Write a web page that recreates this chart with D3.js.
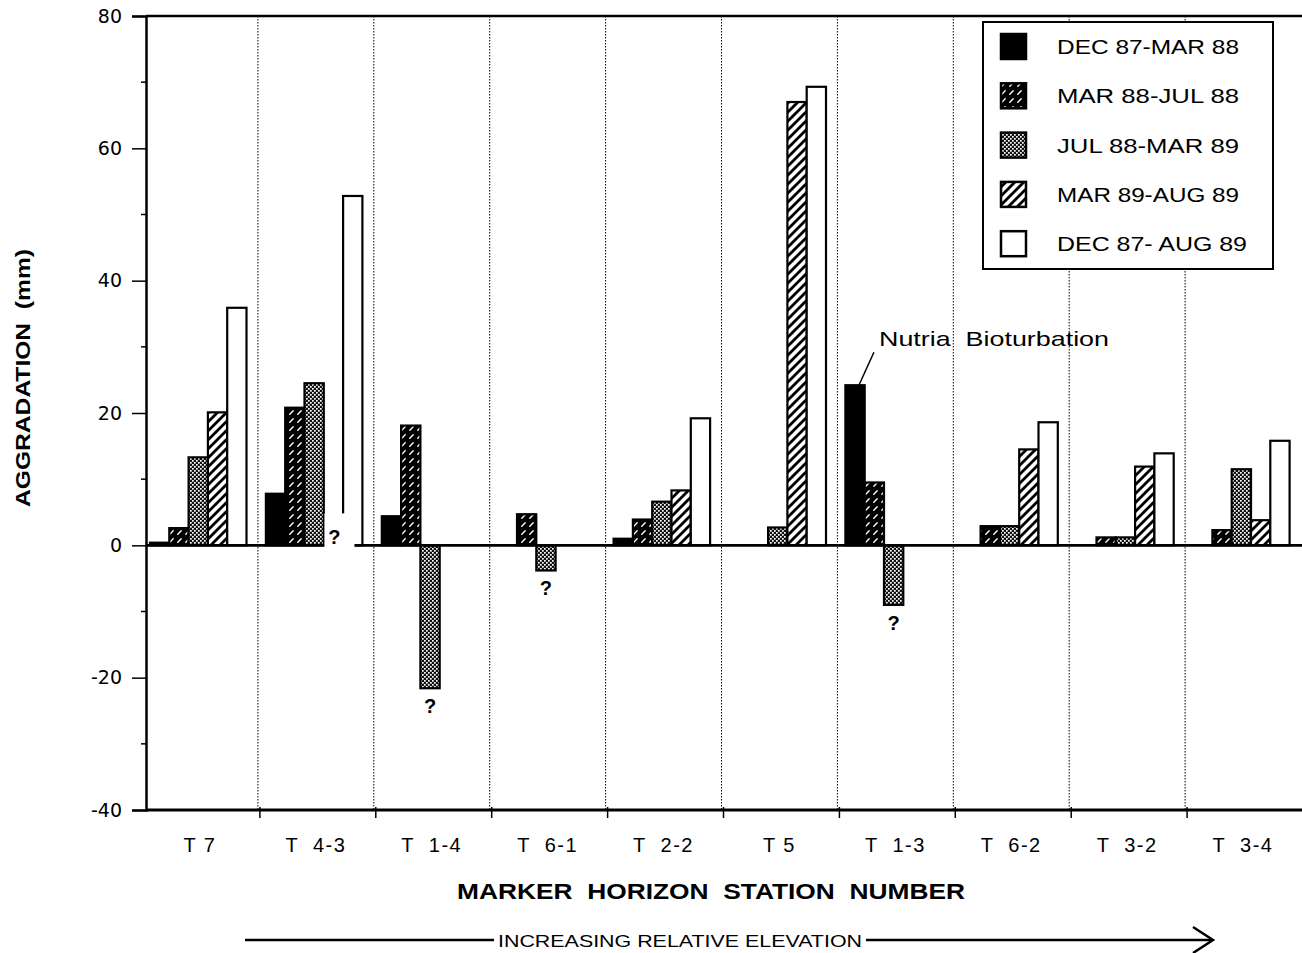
<!DOCTYPE html>
<html>
<head>
<meta charset="utf-8">
<script src="https://cdn.jsdelivr.net/npm/d3@7"></script>
<style>
  html, body { margin: 0; padding: 0; background: #fff; }
  svg { display: block; font-family: "Liberation Sans", Arial, Helvetica, sans-serif; }
</style>
</head>
<body>
<svg id="chart" width="1302" height="953"></svg>
<script>
// ---------------- DATA ----------------
const stations = ["T 7", "T  4-3", "T  1-4", "T  6-1", "T  2-2", "T 5", "T  1-3", "T  6-2", "T  3-2", "T  3-4"];
const seriesNames = ["DEC 87-MAR 88", "MAR 88-JUL 88", "JUL 88-MAR 89", "MAR 89-AUG 89", "DEC 87- AUG 89"];
const dec87Mar88 = [0.4, 7.8, 4.4, null, 1.0, null, 24.2, null, null, null];
const mar88Jul88 = [2.6, 20.8, 18.1, 4.7, 3.9, null, 9.5, 2.9, 1.2, 2.3];
const jul88Mar89 = [13.3, 24.5, -21.6, -3.8, 6.6, 2.7, -9.0, 2.9, 1.2, 11.5];
const mar89Aug89 = [20.1, null, null, null, 8.3, 67.0, null, 14.5, 11.9, 3.8];
const dec87Aug89 = [35.9, 52.8, null, null, 19.2, 69.3, null, 18.6, 13.9, 15.8];
const yTicks = [-40, -20, 0, 20, 40, 60, 80];
const yMinorTicks = [-30, -10, 10, 30, 50, 70];
// uncertain values marked with "?" : [station, series]
const questionMarks = [["T  4-3", "MAR 89-AUG 89"], ["T  1-4", "JUL 88-MAR 89"], ["T  6-1", "JUL 88-MAR 89"], ["T  1-3", "JUL 88-MAR 89"]];
const annotation = { station: "T  1-3", series: "DEC 87-MAR 88", text: "Nutria  Bioturbation" };
const xTitle = "MARKER  HORIZON  STATION  NUMBER";
const yTitle = "AGGRADATION  (mm)";
const arrowText = "INCREASING RELATIVE ELEVATION";

const seriesValues = [dec87Mar88, mar88Jul88, jul88Mar89, mar89Aug89, dec87Aug89];
const fills = ["#000", "url(#pMar88)", "url(#pJul88)", "url(#pMar89)", "#fff"];

// ---------------- SETUP ----------------
const svg = d3.select("#chart");
const axisX = 146, plotTop = 16, plotBottom = 810, plotRight = 1302;

const x = d3.scaleBand().domain(stations).range([142, 1301]).padding(0);
const inner = d3.scaleBand().domain(seriesNames).range([8, 104.5]).padding(0);
const y = d3.scaleLinear().domain([-40, 80]).range([plotBottom, plotTop]);

// patterns
const defs = svg.append("defs");
const p1 = defs.append("pattern").attr("id", "pMar88").attr("patternUnits", "userSpaceOnUse")
  .attr("width", 8).attr("height", 8);
p1.append("rect").attr("width", 8).attr("height", 8).attr("fill", "#000");
p1.append("path").attr("d", "M1.8,6.2 L5.2,2.8").attr("stroke", "#fff").attr("stroke-width", 1.4)
  .attr("stroke-linecap", "round");

const p2 = defs.append("pattern").attr("id", "pJul88").attr("patternUnits", "userSpaceOnUse")
  .attr("width", 4).attr("height", 4);
p2.append("rect").attr("width", 4).attr("height", 4).attr("fill", "#111");
p2.append("rect").attr("x", 0).attr("y", 0).attr("width", 1.7).attr("height", 1.7).attr("fill", "#fff");
p2.append("rect").attr("x", 2).attr("y", 2).attr("width", 1.7).attr("height", 1.7).attr("fill", "#fff");

const p3 = defs.append("pattern").attr("id", "pMar89").attr("patternUnits", "userSpaceOnUse")
  .attr("width", 9).attr("height", 9);
p3.append("rect").attr("width", 9).attr("height", 9).attr("fill", "#fff");
p3.append("path").attr("d", "M-2,2 L2,-2 M0,9 L9,0 M7,11 L11,7").attr("stroke", "#000").attr("stroke-width", 2.8);

// group separators (dotted)
const boundaries = stations.slice(1).map(s => x(s));
svg.append("g").selectAll("line").data(boundaries).join("line")
  .attr("x1", d => d).attr("x2", d => d).attr("y1", plotTop).attr("y2", plotBottom)
  .attr("stroke", "#000").attr("stroke-width", 1).attr("stroke-dasharray", "1.5,1.5");

// bars
const barData = [];
seriesNames.forEach((s, si) => {
  stations.forEach((st, i) => {
    const v = seriesValues[si][i];
    if (v !== null && v !== undefined) barData.push({ station: st, series: s, si, value: v });
  });
});
svg.append("g").selectAll("rect").data(barData).join("rect")
  .attr("x", d => x(d.station) + inner(d.series))
  .attr("width", inner.bandwidth())
  .attr("y", d => y(Math.max(0, d.value)))
  .attr("height", d => Math.abs(y(d.value) - y(0)))
  .attr("fill", d => fills[d.si])
  .attr("stroke", "#000").attr("stroke-width", 2.2);

// zero line
svg.append("line").attr("x1", axisX).attr("x2", plotRight).attr("y1", y(0)).attr("y2", y(0))
  .attr("stroke", "#000").attr("stroke-width", 2.8);

// question marks
questionMarks.forEach(([st, s]) => {
  const si = seriesNames.indexOf(s);
  const v = seriesValues[si][stations.indexOf(st)];
  const cx = x(st) + inner(s) + inner.bandwidth() / 2;
  if (v === null) {
    svg.append("rect").attr("x", cx - 9).attr("y", y(0) - 32).attr("width", 30).attr("height", 36).attr("fill", "#fff");
    svg.append("text").attr("x", cx + 1).attr("y", y(0) - 1).attr("text-anchor", "middle")
      .attr("font-size", 20).attr("font-weight", "bold").text("?");
  } else {
    svg.append("text").attr("x", cx).attr("y", y(v) + 25).attr("text-anchor", "middle")
      .attr("font-size", 20).attr("font-weight", "bold").text("?");
  }
});

// frame lines: top and bottom axis
svg.append("line").attr("x1", axisX).attr("x2", plotRight).attr("y1", plotTop).attr("y2", plotTop)
  .attr("stroke", "#000").attr("stroke-width", 2.5);
svg.append("line").attr("x1", axisX).attr("x2", plotRight).attr("y1", plotBottom).attr("y2", plotBottom)
  .attr("stroke", "#000").attr("stroke-width", 3);
// bottom ticks
svg.append("g").selectAll("line").data(boundaries).join("line")
  .attr("x1", d => d + 2).attr("x2", d => d + 2).attr("y1", plotBottom - 3).attr("y2", plotBottom + 8)
  .attr("stroke", "#000").attr("stroke-width", 1.5);

// y axis
const yAxis = svg.append("g").attr("transform", `translate(${axisX},0)`)
  .call(d3.axisLeft(y).tickValues(yTicks).tickSize(14).tickPadding(10).tickFormat(d => String(d)));
yAxis.select(".domain").attr("stroke-width", 2.5);
yAxis.selectAll(".tick line").attr("stroke-width", 1.5);
yAxis.selectAll(".tick text").attr("fill", "#000")
  .attr("font-family", "'DejaVu Sans', 'Liberation Sans', sans-serif").attr("font-size", 19);
svg.append("g").selectAll("line").data(yMinorTicks).join("line")
  .attr("x1", axisX - 5).attr("x2", axisX + 1).attr("y1", d => y(d)).attr("y2", d => y(d))
  .attr("stroke", "#000").attr("stroke-width", 1.5);

// x labels
svg.append("g").selectAll("text").data(stations).join("text")
  .attr("x", d => x(d) + x.bandwidth() / 2).attr("y", 852)
  .attr("text-anchor", "middle").attr("font-size", 20).attr("letter-spacing", 1.5)
  .style("white-space", "pre").text(d => d);

// axis titles
svg.append("text").attr("x", 711).attr("y", 899).attr("text-anchor", "middle")
  .attr("font-size", 22).attr("font-weight", "bold")
  .attr("textLength", 508).attr("lengthAdjust", "spacingAndGlyphs")
  .style("white-space", "pre").text(xTitle);
svg.append("text").attr("transform", "translate(30,378) rotate(-90)").attr("text-anchor", "middle")
  .attr("font-size", 20).attr("font-weight", "bold")
  .attr("textLength", 258).attr("lengthAdjust", "spacingAndGlyphs")
  .style("white-space", "pre").text(yTitle);

// arrow
svg.append("line").attr("x1", 245).attr("x2", 494).attr("y1", 940).attr("y2", 940).attr("stroke", "#000").attr("stroke-width", 2.5);
svg.append("line").attr("x1", 866).attr("x2", 1212).attr("y1", 940).attr("y2", 940).attr("stroke", "#000").attr("stroke-width", 2.5);
svg.append("path").attr("d", "M1193,927 L1213,940 L1193,953").attr("fill", "none").attr("stroke", "#000").attr("stroke-width", 2.5);
svg.append("text").attr("x", 680).attr("y", 947).attr("text-anchor", "middle")
  .attr("font-size", 17).attr("textLength", 364).attr("lengthAdjust", "spacingAndGlyphs")
  .text(arrowText);

// annotation
{
  const st = annotation.station, s = annotation.series;
  const v = seriesValues[seriesNames.indexOf(s)][stations.indexOf(st)];
  const bx = x(st) + inner(s) + inner.bandwidth() * 0.7;
  svg.append("line").attr("x1", bx).attr("y1", y(v)).attr("x2", bx + 15).attr("y2", y(v) - 33)
    .attr("stroke", "#000").attr("stroke-width", 1.5);
  svg.append("text").attr("x", 879).attr("y", 346).attr("font-size", 21)
    .attr("textLength", 230).attr("lengthAdjust", "spacingAndGlyphs")
    .style("white-space", "pre").text(annotation.text);
}

// legend
const lg = svg.append("g");
lg.append("rect").attr("x", 983).attr("y", 22).attr("width", 290).attr("height", 247)
  .attr("fill", "#fff").attr("stroke", "#000").attr("stroke-width", 2);
seriesNames.forEach((s, i) => {
  const cy = 46 + i * 49.3;
  lg.append("rect").attr("x", 1001).attr("y", cy - 12).attr("width", 25).attr("height", 25)
    .attr("fill", fills[i]).attr("stroke", "#000").attr("stroke-width", 2.5);
  lg.append("text").attr("x", 1057).attr("y", cy + 8).attr("font-size", 21)
    .attr("textLength", s.length > 13 ? 190 : 182).attr("lengthAdjust", "spacingAndGlyphs")
    .text(s);
});
</script>
</body>
</html>
